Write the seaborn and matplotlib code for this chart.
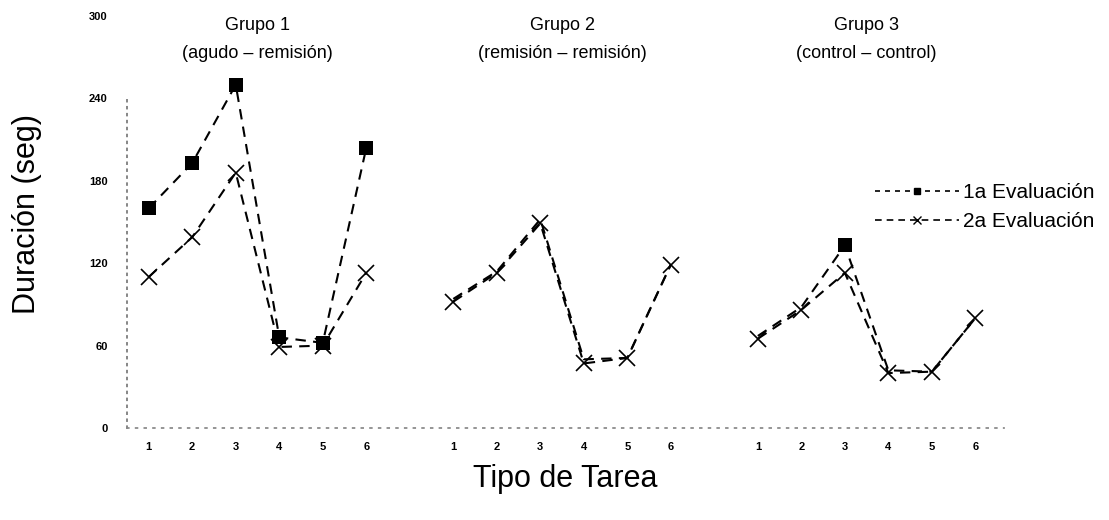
import pandas as pd
import matplotlib.pyplot as plt
import seaborn as sns
from matplotlib.lines import Line2D

# datos
tareas = [1, 2, 3, 4, 5, 6]
grupos = ['Grupo 1', 'Grupo 2', 'Grupo 3']
subtitulos = ['(agudo – remisión)', '(remisión – remisión)', '(control – control)']
evaluaciones = ['1a Evaluación', '2a Evaluación']

eval1_g1 = [160, 193, 250, 66, 62, 204]
eval2_g1 = [110, 139, 186, 59, 60, 113]
eval1_g2 = [94, 114, 152, 50, 51, 119]
eval2_g2 = [92, 113, 149, 47, 51, 119]
eval1_g3 = [67, 88, 133, 42, 41, 80]
eval2_g3 = [65, 86, 113, 40, 41, 80]

# en el original, los cuadrados de grupos 2 y 3 quedan tapados por las cruces
cuadrado_visible_g1 = [True, True, True, True, True, True]
cuadrado_visible_g2 = [False, False, False, False, False, False]
cuadrado_visible_g3 = [False, False, True, False, False, False]

yticks = [0, 60, 120, 180, 240, 300]

valores = {
    ('Grupo 1', '1a Evaluación'): eval1_g1,
    ('Grupo 1', '2a Evaluación'): eval2_g1,
    ('Grupo 2', '1a Evaluación'): eval1_g2,
    ('Grupo 2', '2a Evaluación'): eval2_g2,
    ('Grupo 3', '1a Evaluación'): eval1_g3,
    ('Grupo 3', '2a Evaluación'): eval2_g3,
}
visibles = {'Grupo 1': cuadrado_visible_g1, 'Grupo 2': cuadrado_visible_g2,
            'Grupo 3': cuadrado_visible_g3}

rows = []
for gi, g in enumerate(grupos):
    for ev in evaluaciones:
        for t, v, vis in zip(tareas, valores[(g, ev)], visibles[g]):
            rows.append({'Grupo': g, 'Evaluacion': ev, 'Tarea': t,
                         'pos': gi * 7 + t, 'Duracion': v, 'visible': vis})
df = pd.DataFrame(rows)
df1 = df[df['Evaluacion'] == '1a Evaluación']
df2 = df[df['Evaluacion'] == '2a Evaluación']

sns.set_theme(style="white")
plt.rcParams['font.family'] = ['Liberation Sans', 'DejaVu Sans']
plt.rcParams.update({'text.color': 'black', 'axes.labelcolor': 'black',
                     'xtick.color': 'black', 'ytick.color': 'black'})

fig = plt.figure(figsize=(11.09, 5.2), dpi=100)
ax = fig.add_axes([0.1145, 0.177, 0.7905, 0.792])

dash = (0, (5, 3.5))

# 1a evaluacion: linea discontinua + cuadrados negros
sns.lineplot(data=df1, x='pos', y='Duracion', units='Grupo', estimator=None,
             color='black', linestyle=dash, linewidth=1.5, ax=ax, legend=False)
sns.scatterplot(data=df1[df1['visible']], x='pos', y='Duracion', color='black',
                marker='s', s=95, edgecolor='black', linewidth=0, ax=ax, legend=False)

# 2a evaluacion: linea discontinua + cruces
sns.lineplot(data=df2, x='pos', y='Duracion', units='Grupo', estimator=None,
             color='black', linestyle=dash, linewidth=1.5,
             marker='x', markersize=11, markeredgewidth=1.2, markeredgecolor='black',
             ax=ax, legend=False)

ax.set_xlim(0.5, 20.65)
ax.set_ylim(0, 300)
ax.set_yticks(yticks)
ax.set_yticklabels([str(v) for v in yticks], fontsize=8, fontweight='bold')
pos_ticks = sorted(df['pos'].unique())
ax.set_xticks(pos_ticks)
ax.set_xticklabels([str(t) for t in tareas] * 3, fontsize=8, fontweight='bold')
ax.tick_params(axis='y', length=0, pad=14)
ax.tick_params(axis='x', length=0, pad=10)

for s in ['top', 'right']:
    ax.spines[s].set_visible(False)
ax.spines['left'].set_linestyle((0, (1, 3)))
ax.spines['left'].set_color('#777777')
ax.spines['left'].set_bounds(0, 240)
ax.spines['bottom'].set_linestyle((0, (1, 4)))
ax.spines['bottom'].set_color('#888888')

ax.set_ylabel('Duración (seg)', fontsize=22)
ax.yaxis.set_label_coords(-0.097, 0.52)
ax.set_xlabel('Tipo de Tarea', fontsize=22)
ax.xaxis.set_label_coords(0.5, -0.088)

for gi, (g, sub) in enumerate(zip(grupos, subtitulos)):
    xc = gi * 7 + 3.5
    ax.text(xc, 293, g, ha='center', va='center', fontsize=13)
    ax.text(xc, 273, sub, ha='center', va='center', fontsize=13)

handles = [
    Line2D([], [], color='black', linestyle=(0, (3, 3)), marker='s', markersize=5, linewidth=1.2),
    Line2D([], [], color='black', linestyle=(0, (4, 3)), marker='x', markersize=6, linewidth=1.2),
]
fig.legend(handles, evaluaciones, loc='upper left', bbox_to_anchor=(0.776, 0.676),
           frameon=False, fontsize=15, handlelength=4.0, handletextpad=0.2,
           labelspacing=0.5, borderpad=0.2)

plt.savefig('out.png', dpi=100)
